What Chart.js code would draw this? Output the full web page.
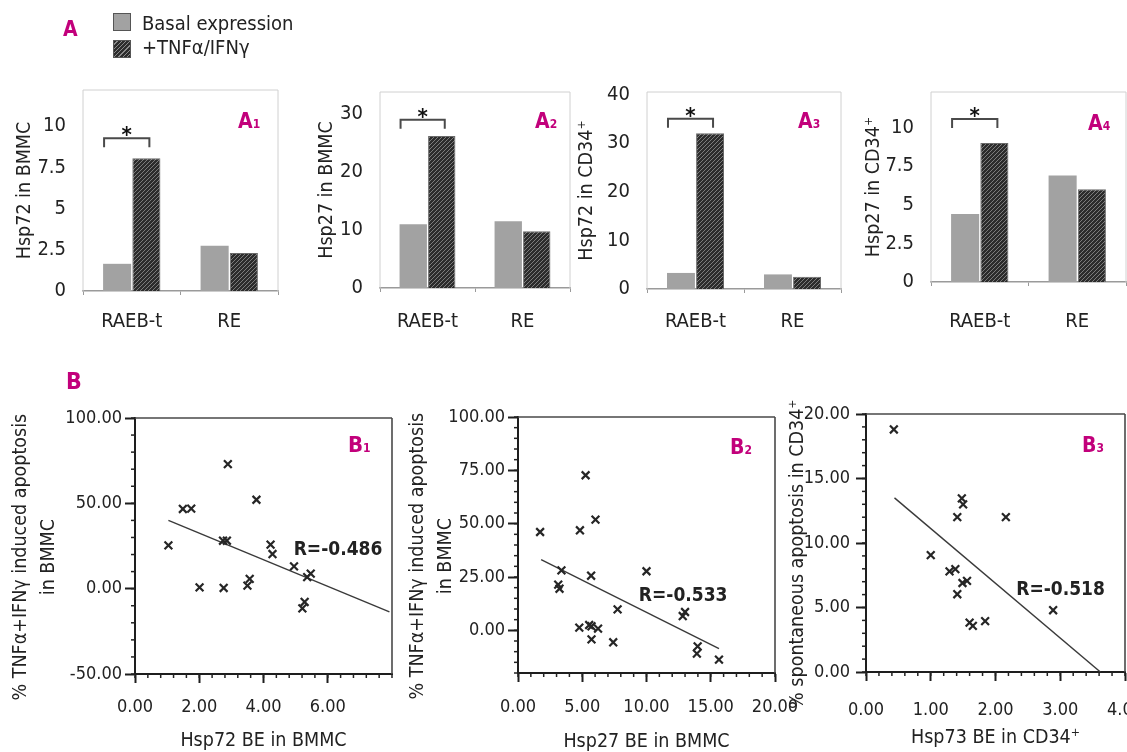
<!DOCTYPE html>
<html><head><meta charset="utf-8">
<script src="https://cdn.jsdelivr.net/npm/chart.js@4.4.1/dist/chart.umd.min.js"></script>
<style>
html,body{margin:0;padding:0;overflow:hidden;background:#fff;}
body{width:1127px;height:752px;position:relative;font-family:'DejaVu Sans Condensed','DejaVu Sans',sans-serif;color:#222;}
canvas{position:absolute;}
.lbl{position:absolute;font-weight:bold;color:#c2007b;line-height:1;white-space:nowrap;}
.lbl span{font-size:12px;}
.leg{position:absolute;line-height:1;font-size:20px;white-space:nowrap;color:#222;}
.sw{position:absolute;width:16px;height:16px;border:1px solid #555;}
</style></head><body>
<canvas id="a1"></canvas><canvas id="a2"></canvas><canvas id="a3"></canvas><canvas id="a4"></canvas>
<canvas id="b1"></canvas><canvas id="b2"></canvas><canvas id="b3"></canvas>
<div id="legend"></div>
<div class="lbl" style="left:63px;top:19px;font-size:21px">A</div>
<div class="lbl" style="left:66px;top:370px;font-size:23px">B</div>
<div class="lbl" style="left:238px;top:111px;font-size:21px">A<span>1</span></div>
<div class="lbl" style="left:535px;top:111px;font-size:21px">A<span>2</span></div>
<div class="lbl" style="left:798px;top:111px;font-size:21px">A<span>3</span></div>
<div class="lbl" style="left:1088px;top:113px;font-size:21px">A<span>4</span></div>
<div class="lbl" style="left:348px;top:434px;font-size:22px">B<span>1</span></div>
<div class="lbl" style="left:730px;top:437px;font-size:21px">B<span>2</span></div>
<div class="lbl" style="left:1082px;top:435px;font-size:21px">B<span>3</span></div>
<script>
// ---------------- DATA ----------------
const barCategories = ['RAEB-t', 'RE'];
const seriesNames = ['Basal expression', '+TNFα/IFNγ'];

const a1Basal = [1.65, 2.75];
const a1Tnf   = [8.05, 2.3];
const a1Ticks = [0, 2.5, 5, 7.5, 10];

const a2Basal = [11.0, 11.5];
const a2Tnf   = [26.2, 9.8];
const a2Ticks = [0, 10, 20, 30];

const a3Basal = [3.3, 3.0];
const a3Tnf   = [32.0, 2.5];
const a3Ticks = [0, 10, 20, 30, 40];

const a4Basal = [4.4, 6.9];
const a4Tnf   = [9.0, 6.0];
const a4Ticks = [0, 2.5, 5, 7.5, 10];

const b1X = [1.04, 1.49, 1.75, 2.01, 2.74, 2.86, 2.89, 2.76, 3.50, 3.57, 3.78, 4.22, 4.28, 4.95, 5.36, 5.47, 5.28, 5.21];
const b1Y = [25.4, 46.7, 46.9, 0.8, 28.1, 28.1, 73.0, 0.4, 1.8, 5.7, 52.1, 25.8, 20.3, 13.1, 6.8, 8.8, -7.8, -11.5];
const b1FitX = [1.04, 7.92];
const b1FitY = [40.0, -13.6];
const b1XTicks = [0, 2, 4, 6];
const b1YTicks = [-50, 0, 50, 100];

const b2X = [1.72, 3.38, 3.13, 3.23, 4.82, 5.26, 6.03, 5.69, 4.77, 5.54, 5.72, 6.23, 5.72, 7.41, 7.75, 10.0, 12.82, 13.0, 13.98, 13.92, 15.64];
const b2Y = [46.1, 28.1, 21.4, 19.5, 46.9, 72.7, 51.9, 25.6, 1.3, 2.5, 1.9, 0.8, -4.2, -5.6, 9.8, 27.7, 6.7, 8.6, -7.5, -10.9, -13.7];
const b2FitX = [1.8, 15.64];
const b2FitY = [33.1, -8.6];
const b2XTicks = [0, 5, 10, 15, 20];
const b2YTicks = [0, 25, 50, 75, 100];

const b3X = [0.43, 1.0, 1.29, 1.38, 1.41, 1.41, 1.48, 1.50, 1.49, 1.56, 1.60, 1.65, 1.84, 2.16, 2.89];
const b3Y = [18.8, 9.06, 7.8, 7.97, 6.03, 12.0, 13.46, 13.0, 6.9, 7.07, 3.83, 3.57, 3.94, 12.0, 4.79];
const b3FitX = [0.44, 3.62];
const b3FitY = [13.5, 0];
const b3XTicks = [0, 1, 2, 3, 4];
const b3YTicks = [0, 5, 10, 15, 20];

// ---------------- STYLE / SETUP ----------------
const FONT = "'DejaVu Sans Condensed','DejaVu Sans',sans-serif";
Chart.defaults.font.family = FONT;
Chart.defaults.color = '#222';
Chart.defaults.animation = false;
Chart.defaults.plugins.legend.display = false;
Chart.defaults.plugins.tooltip.enabled = false;

const BASAL = '#a2a2a2';
const P = 50;
const A_TICK = 20, A_TITLE = 19.5, B_TICK = 18, B_TITLE = 19.5;

function hatchPattern() {
  const c = document.createElement('canvas'); c.width = 4; c.height = 4;
  const g = c.getContext('2d');
  g.fillStyle = '#2c2c2c'; g.fillRect(0, 0, 4, 4);
  g.strokeStyle = '#7c7c7c'; g.lineWidth = 1;
  g.beginPath();
  g.moveTo(0, 4); g.lineTo(4, 0);
  g.moveTo(-1, 1); g.lineTo(1, -1);
  g.moveTo(3, 5); g.lineTo(5, 3);
  g.stroke();
  return g.createPattern(c, 'repeat');
}
const HATCH = hatchPattern();

// legend (built from series names)
const legendBox = document.getElementById('legend');
const swatchBg = [BASAL, 'repeating-linear-gradient(135deg,#2c2c2c 0 2px,#8a8a8a 2px 3px)'];
seriesNames.forEach((name, i) => {
  const sw = document.createElement('div');
  sw.className = 'sw';
  sw.style.left = '113px'; sw.style.top = (13 + i * 27) + 'px';
  sw.style.background = swatchBg[i];
  legendBox.appendChild(sw);
  const t = document.createElement('div');
  t.className = 'leg';
  t.style.left = '142px'; t.style.top = (13 + i * 24) + 'px';
  t.textContent = name;
  legendBox.appendChild(t);
});

function setupCanvas(id, left, top, right, bottom) {
  const cv = document.getElementById(id);
  cv.width = Math.round(right - left); cv.height = Math.round(bottom - top);
  cv.style.left = Math.round(left) + 'px'; cv.style.top = Math.round(top) + 'px';
  return cv;
}

function framePlugin(sides, color, width) {
  return { id: 'frame', beforeDatasetsDraw(chart) {
    const { left, top, right, bottom } = chart.chartArea, ctx = chart.ctx;
    ctx.save(); ctx.strokeStyle = color; ctx.lineWidth = width; ctx.beginPath();
    if (sides.includes('top')) { ctx.moveTo(left, top); ctx.lineTo(right, top); }
    if (sides.includes('right')) { ctx.moveTo(right, top); ctx.lineTo(right, bottom); }
    if (sides.includes('left')) { ctx.moveTo(left, top); ctx.lineTo(left, bottom); }
    ctx.stroke(); ctx.restore();
  } };
}

function minorPlugin(xStep, yStep) {
  return { id: 'minor', afterDraw(chart) {
    const ctx = chart.ctx, a = chart.chartArea;
    ctx.save(); ctx.strokeStyle = '#222'; ctx.lineWidth = 1.5;
    [['x', xStep], ['y', yStep]].forEach(([id, step]) => {
      const s = chart.scales[id];
      const n = Math.round((s.max - s.min) / step);
      for (let i = 0; i <= n; i++) {
        const p = s.getPixelForValue(s.min + i * step);
        ctx.beginPath();
        if (id === 'x') { ctx.moveTo(p, a.bottom); ctx.lineTo(p, a.bottom + 4); }
        else { ctx.moveTo(a.left, p); ctx.lineTo(a.left - 4, p); }
        ctx.stroke();
      }
    });
    ctx.restore();
  } };
}

function notePlugin(text, x, y) {
  return { id: 'note', afterDatasetsDraw(chart) {
    const ctx = chart.ctx;
    ctx.save(); ctx.font = 'bold 19px ' + FONT; ctx.fillStyle = '#222';
    ctx.textAlign = 'left'; ctx.textBaseline = 'middle';
    ctx.fillText(text, chart.scales.x.getPixelForValue(x), chart.scales.y.getPixelForValue(y));
    ctx.restore();
  } };
}

function bracketPlugin(value) {
  return { id: 'bracket', afterDatasetsDraw(chart) {
    const m0 = chart.getDatasetMeta(0).data[0], m1 = chart.getDatasetMeta(1).data[0];
    const x0 = m0.x - m0.width / 2 + 1, x1 = m1.x + 3;
    const y = chart.scales.y.getPixelForValue(value);
    const ctx = chart.ctx;
    ctx.save(); ctx.strokeStyle = '#4a4a4a'; ctx.lineWidth = 2;
    ctx.beginPath(); ctx.moveTo(x0, y + 9); ctx.lineTo(x0, y); ctx.lineTo(x1, y); ctx.lineTo(x1, y + 9); ctx.stroke();
    ctx.font = 'bold 22px ' + FONT; ctx.fillStyle = '#111'; ctx.textAlign = 'center'; ctx.textBaseline = 'alphabetic';
    ctx.fillText('*', (x0 + x1) / 2, y + 4);
    ctx.restore();
  } };
}

function barPanel(o) {
  const [l, t, r, b] = o.area;
  const yW = l - o.yScaleLeft, xH = 60;
  const cv = setupCanvas(o.id, o.yScaleLeft - P, t - P, r + P, b + xH + P);
  new Chart(cv, {
    type: 'bar',
    data: { labels: barCategories, datasets: [
      { label: seriesNames[0], data: o.basal, backgroundColor: BASAL },
      { label: seriesNames[1], data: o.tnf, backgroundColor: HATCH, borderColor: '#6a6a6a', borderWidth: 1 }
    ] },
    options: {
      responsive: false,
      layout: { padding: P },
      datasets: { bar: { categoryPercentage: 0.6, barPercentage: 0.96 } },
      scales: {
        x: {
          grid: { display: true, drawOnChartArea: false, drawTicks: true, tickLength: 4, color: '#9a9a9a', offset: true },
          border: { display: true, color: '#9a9a9a', width: 1.5 },
          ticks: { font: { size: A_TICK }, padding: o.labelY - b - 4 - A_TICK * 0.6, maxRotation: 0, autoSkip: false, color: '#222' },
          afterFit(s) { s.height = xH; }
        },
        y: {
          min: 0, max: o.max,
          grid: { display: false }, border: { display: false },
          afterBuildTicks(s) { s.ticks = o.ticks.map(v => ({ value: v })); },
          ticks: { font: { size: A_TICK }, padding: 9, color: '#222', callback: v => String(v) },
          title: { display: true, text: o.title, font: { size: A_TITLE }, padding: { top: 0, bottom: 0 }, color: '#222' },
          afterFit(s) { s.width = yW; }
        }
      }
    },
    plugins: [framePlugin(['left', 'top', 'right'], '#d0d0d0', 1), bracketPlugin(o.bracket)]
  });
}

function scatterPanel(o) {
  const [l, t, r, b] = o.area;
  const yW = l - o.yScaleLeft, xH = o.xScaleBottom - b;
  const cv = setupCanvas(o.id, o.yScaleLeft - P, t - P, r + P, o.xScaleBottom + P);
  new Chart(cv, {
    type: 'scatter',
    data: { datasets: [
      { label: 'cases', data: o.xs.map((x, i) => ({ x, y: o.ys[i] })), pointStyle: 'crossRot', pointRadius: 5.5,
        borderColor: '#262626', backgroundColor: '#262626', borderWidth: 2.2 },
      { label: 'fit', data: o.fx.map((x, i) => ({ x, y: o.fy[i] })), showLine: true, pointRadius: 0,
        borderColor: '#3a3a3a', borderWidth: 1.4 }
    ] },
    options: {
      responsive: false,
      layout: { padding: P },
      scales: {
        x: {
          type: 'linear', min: o.xr[0], max: o.xr[1],
          afterBuildTicks(s) { s.ticks = o.xt.map(v => ({ value: v })); },
          grid: { display: true, drawOnChartArea: false, drawTicks: true, tickLength: 9, tickWidth: 2, tickColor: '#1e1e1e' },
          border: { display: true, color: '#1e1e1e', width: 2 },
          ticks: { font: { size: B_TICK }, padding: o.labelY - b - 9 - B_TICK * 0.6, color: '#222', autoSkip: false, maxRotation: 0, callback: v => v.toFixed(2) },
          title: { display: true, text: o.xTitle, font: { size: B_TITLE, lineHeight: 1 }, padding: { top: 0, bottom: 0 }, color: '#222' },
          afterFit(s) { s.height = xH; }
        },
        y: {
          type: 'linear', min: o.yr[0], max: o.yr[1],
          afterBuildTicks(s) { s.ticks = o.yt.map(v => ({ value: v })); },
          grid: { display: true, drawOnChartArea: false, drawTicks: true, tickLength: 10, tickWidth: 2, tickColor: '#1e1e1e' },
          border: { display: true, color: '#1e1e1e', width: 2 },
          ticks: { font: { size: B_TICK }, padding: o.yPad, color: '#222', autoSkip: false, callback: v => v.toFixed(2) },
          title: { display: true, text: o.yTitle, font: { size: B_TITLE, lineHeight: 28 / B_TITLE }, padding: { top: 0, bottom: 0 }, color: '#222' },
          afterFit(s) { s.width = yW; }
        }
      }
    },
    plugins: [framePlugin(['top', 'right'], '#4a4a4a', 1.6), minorPlugin(o.xm, o.ym), notePlugin(o.note, o.noteX, o.noteY)]
  });
}

// ---------------- PANELS ----------------
barPanel({ id: 'a1', basal: a1Basal, tnf: a1Tnf, ticks: a1Ticks, title: 'Hsp72 in BMMC', max: 12.2,
  area: [83, 90, 278, 291], yScaleLeft: 13, labelY: 322, bracket: 9.27 });
barPanel({ id: 'a2', basal: a2Basal, tnf: a2Tnf, ticks: a2Ticks, title: 'Hsp27 in BMMC', max: 33.8,
  area: [380, 92, 570, 288], yScaleLeft: 315, labelY: 322, bracket: 29 });
barPanel({ id: 'a3', basal: a3Basal, tnf: a3Tnf, ticks: a3Ticks, title: 'Hsp72 in CD34⁺', max: 40.5,
  area: [647, 92, 841, 289], yScaleLeft: 575, labelY: 322, bracket: 35 });
barPanel({ id: 'a4', basal: a4Basal, tnf: a4Tnf, ticks: a4Ticks, title: 'Hsp27 in CD34⁺', max: 12.3,
  area: [931, 92, 1126, 282], yScaleLeft: 862, labelY: 322, bracket: 10.55 });

scatterPanel({ id: 'b1', xs: b1X, ys: b1Y, fx: b1FitX, fy: b1FitY, xt: b1XTicks, yt: b1YTicks,
  xr: [0, 8], yr: [-50, 100], xm: 0.4, ym: 10, area: [135, 418, 392, 674], yScaleLeft: 7, xScaleBottom: 751,
  labelY: 707, yPad: 3, xTitle: 'Hsp72 BE in BMMC',
  yTitle: ['% TNFα+IFNγ induced apoptosis    ', 'in BMMC    '],
  note: 'R=-0.486', noteX: 4.94, noteY: 22.9 });
scatterPanel({ id: 'b2', xs: b2X, ys: b2Y, fx: b2FitX, fy: b2FitY, xt: b2XTicks, yt: b2YTicks,
  xr: [0, 20], yr: [-20, 100], xm: 1, ym: 5, area: [518, 417, 775, 673], yScaleLeft: 404, xScaleBottom: 752,
  labelY: 707, yPad: 3, xTitle: 'Hsp27 BE in BMMC',
  yTitle: ['% TNFα+IFNγ induced apoptosis    ', 'in BMMC    '],
  note: 'R=-0.533', noteX: 9.4, noteY: 16.2 });
scatterPanel({ id: 'b3', xs: b3X, ys: b3Y, fx: b3FitX, fy: b3FitY, xt: b3XTicks, yt: b3YTicks,
  xr: [0, 4], yr: [0, 20], xm: 0.2, ym: 1, area: [866, 414, 1125, 672], yScaleLeft: 784, xScaleBottom: 748,
  labelY: 710, yPad: 6, xTitle: 'Hsp73 BE in CD34⁺',
  yTitle: ['% spontaneous apoptosis in CD34⁺    '],
  note: 'R=-0.518', noteX: 2.32, noteY: 6.37 });
</script>
</body></html>
